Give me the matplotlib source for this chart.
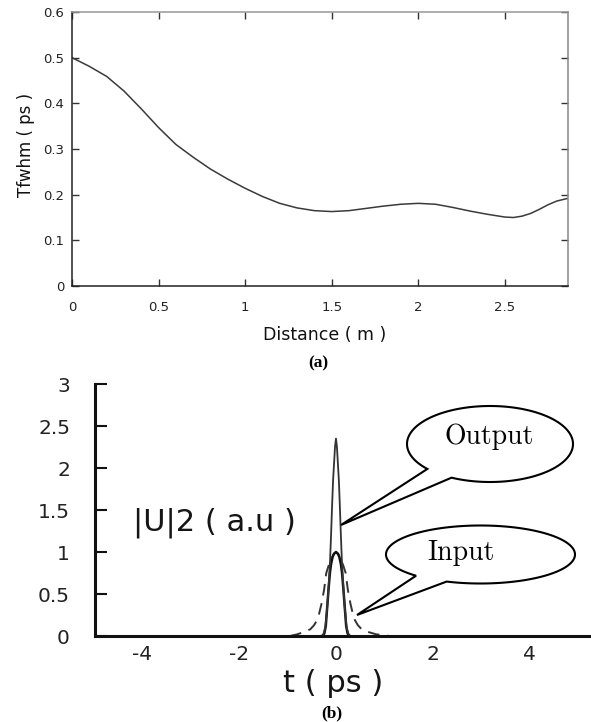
import numpy as np
import matplotlib
matplotlib.use('Agg')
import matplotlib.pyplot as plt
from matplotlib.patches import Polygon

# (a) pulse width along the fibre
dist = [0, 0.1, 0.2, 0.3, 0.4, 0.5, 0.6, 0.7, 0.8, 0.9, 1.0, 1.1, 1.2, 1.3, 1.4, 1.5,
        1.6, 1.7, 1.8, 1.9, 2.0, 2.1, 2.2, 2.3, 2.4, 2.5, 2.55, 2.6, 2.65, 2.7, 2.75, 2.8, 2.865]
tfwhm = [0.500, 0.481, 0.459, 0.427, 0.388, 0.347, 0.310, 0.282, 0.256, 0.234, 0.214, 0.196,
         0.181, 0.171, 0.165, 0.163, 0.165, 0.170, 0.175, 0.179, 0.181, 0.179, 0.172, 0.164,
         0.157, 0.151, 0.150, 0.153, 0.159, 0.168, 0.178, 0.186, 0.192]
xt_a = [0, 0.5, 1, 1.5, 2, 2.5]
xl_a = ['0', '0.5', '1', '1.5', '2', '2.5']
yt_a = [0, 0.1, 0.2, 0.3, 0.4, 0.5, 0.6]
yl_a = ['0', '0.1', '0.2', '0.3', '0.4', '0.5', '0.6']

# (b) pulse profiles
t_out = [-0.30, -0.26, -0.22, -0.18, -0.15, -0.12, -0.10, -0.08, -0.06, -0.04, -0.02, 0,
         0.02, 0.04, 0.06, 0.08, 0.10, 0.12, 0.15, 0.18, 0.22, 0.26, 0.30]
u_out = [0, 0.02, 0.10, 0.35, 0.60, 0.92, 1.22, 1.55, 1.85, 2.05, 2.25, 2.35,
         2.25, 2.05, 1.85, 1.55, 1.22, 0.92, 0.60, 0.35, 0.10, 0.02, 0]
t_in = [-0.28, -0.24, -0.21, -0.18, -0.15, -0.125, -0.10, -0.07, -0.04, 0,
        0.04, 0.07, 0.10, 0.125, 0.15, 0.18, 0.21, 0.24, 0.28]
u_in = [0, 0.03, 0.12, 0.35, 0.58, 0.75, 0.86, 0.94, 0.98, 1.0,
        0.98, 0.94, 0.86, 0.75, 0.58, 0.35, 0.12, 0.03, 0]
t_dash = [-0.95, -0.8, -0.65, -0.53, -0.45, -0.39, -0.35, -0.30, -0.245, -0.20, -0.15, -0.10, -0.05, 0,
          0.05, 0.10, 0.15, 0.20, 0.245, 0.30, 0.35, 0.39, 0.45, 0.53, 0.65, 0.83, 1.1]
u_dash = [0, 0.02, 0.05, 0.08, 0.13, 0.19, 0.26, 0.38, 0.55, 0.75, 0.84, 0.91, 0.97, 1.0,
          0.97, 0.91, 0.84, 0.75, 0.55, 0.38, 0.26, 0.19, 0.13, 0.08, 0.05, 0.02, 0]
xt_b = [-4, -2, 0, 2, 4]
xl_b = ['-4', '-2', '0', '2', '4']
yt_b = [0, 0.5, 1, 1.5, 2, 2.5, 3]
yl_b = ['0', '0.5', '1', '1.5', '2', '2.5', '3']

W, H = 591, 722
fig = plt.figure(figsize=(W / 100, H / 100), dpi=100)

def fx(px):
    return px / W

def fy(py):
    return 1 - py / H

# ---- top panel
ax1 = fig.add_axes([72 / W, 1 - 286 / H, 496 / W, 274 / H])
ax1.plot(dist, tfwhm, color='#3a3a3a', lw=1.1, solid_joinstyle='round')
ax1.set_xlim(0, 2.865)
ax1.set_ylim(0, 0.6)
ax1.set_xticks(xt_a)
ax1.set_xticklabels(xl_a)
ax1.set_yticks(yt_a)
ax1.set_yticklabels(yl_a)
ax1.tick_params(direction='in', length=5, width=1, top=True, right=True,
                labelsize=9.5, color='#333333', labelcolor='#222222')
ax1.tick_params(axis='x', pad=11)
ax1.tick_params(axis='y', pad=5.5)
ax1.spines['left'].set_color('#222222')
ax1.spines['bottom'].set_color('#222222')
ax1.spines['right'].set_color('#888888')
ax1.spines['top'].set_color('#999999')
for s in ax1.spines.values():
    s.set_linewidth(1.1)

fig.text(fx(325), fy(340), 'Distance ( m )', ha='center', va='baseline', fontsize=12.5, color='#111111')
fig.text(fx(26), fy(145), 'Tfwhm ( ps )', rotation=90, ha='center', va='center', fontsize=12, color='#111111')
fig.text(fx(318), fy(367), '(a)', family='Liberation Serif', weight='bold', fontsize=12.5,
         ha='center', va='baseline')

# ---- bottom panel
ax2 = fig.add_axes([95 / W, 1 - 636 / H, (W - 95) / W, 252 / H])
ax2.plot(t_dash, u_dash, color='#333333', lw=1.4, dashes=(6, 4))
ax2.plot(t_in, u_in, color='#111111', lw=1.8)
ax2.plot(t_out, u_out, color='#333333', lw=1.3)
ax2.set_xlim(-4.97, 5.26)
ax2.set_ylim(0, 3)
ax2.set_xticks(xt_b)
ax2.set_xticklabels(xl_b)
ax2.set_yticks(yt_b)
ax2.set_yticklabels(yl_b)
ax2.spines['top'].set_visible(False)
ax2.spines['right'].set_visible(False)
for k in ['left', 'bottom']:
    ax2.spines[k].set_linewidth(2.2)
    ax2.spines[k].set_color('#111111')
ax2.tick_params(axis='y', direction='in', length=8.5, width=1.5, pad=18, labelsize=14.5,
                color='#111111', labelcolor='#222222')
ax2.tick_params(axis='x', length=0, pad=6.5, labelsize=14.5, labelcolor='#222222')
ax2.patch.set_alpha(0)

fig.text(fx(214), fy(530), '|U|2 ( a.u )', ha='center', va='baseline', fontsize=22, color='#151515')
fig.text(fx(333), fy(692), 't ( ps )', ha='center', va='baseline', fontsize=22, color='#151515')
fig.text(fx(332), fy(717), '(b)', family='Liberation Serif', weight='bold', fontsize=12.5,
         ha='center', va='baseline')

# ---- speech bubbles
ov = fig.add_axes([0, 0, 1, 1])
ov.set_xlim(0, W)
ov.set_ylim(H, 0)
ov.axis('off')
ov.patch.set_alpha(0)


def bubble(cx, cy, a, b, ta, tb, tip):
    ang = np.radians(np.linspace(ta, tb + 360, 240))
    pts = np.column_stack([cx + a * np.cos(ang), cy + b * np.sin(ang)])
    pts = np.vstack([pts, tip])
    ov.add_patch(Polygon(pts, closed=True, fc='white', ec='black', lw=1.5, joinstyle='miter'))


bubble(490, 444, 83, 38, 139, 117.6, (341, 525))
bubble(480.5, 554.5, 94.5, 29, 133, 111, (357, 615))
ov.text(489, 437, 'Output', family='cmr10', fontsize=20, ha='center', va='center')
ov.text(461, 553, 'Input', family='cmr10', fontsize=20, ha='center', va='center')

fig.savefig('out.png', dpi=100)
